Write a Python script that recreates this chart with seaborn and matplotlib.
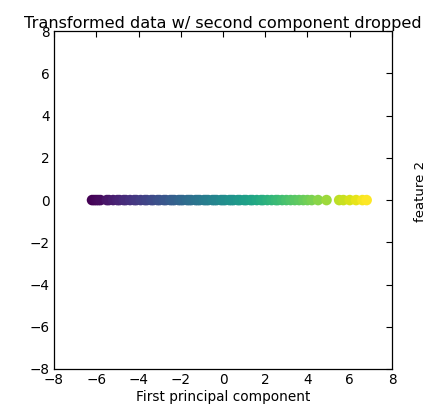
import matplotlib
matplotlib.use("Agg")
import matplotlib.pyplot as plt
import seaborn as sns
import pandas as pd

# First principal component values (second component dropped -> 0)
pc1 = [-6.2, -6.1, -6.0, -5.9, -5.8, -5.5, -5.4, -5.2, -5.0, -4.9, -4.7, -4.6,
       -4.4, -4.2, -4.1, -3.9, -3.7, -3.6, -3.4, -3.3, -3.1, -3.0, -2.8, -2.7,
       -2.5, -2.4, -2.3, -2.1, -2.0, -1.9, -1.7, -1.6, -1.5, -1.3, -1.2, -1.1,
       -0.9, -0.8, -0.7, -0.5, -0.4, -0.3, -0.1, 0.0, 0.1, 0.3, 0.4, 0.5, 0.7,
       0.8, 1.0, 1.1, 1.3, 1.4, 1.6, 1.8, 1.9, 2.1, 2.3, 2.5, 2.6, 2.8, 3.0,
       3.2, 3.4, 3.6, 3.8, 4.0, 4.2, 4.5, 4.9, 5.5, 5.7, 6.0, 6.3, 6.6, 6.8]
pc2 = [0.0] * len(pc1)

title = "Transformed data w/ second component dropped"
xlabel = "First principal component"
side_label = "feature 2"
ticks = [-8, -6, -4, -2, 0, 2, 4, 6, 8]

sns.set_style("white")
plt.rcParams['font.family'] = ['DejaVu Sans']
plt.rcParams['text.color'] = 'black'
plt.rcParams['axes.labelcolor'] = 'black'
plt.rcParams['xtick.color'] = 'black'
plt.rcParams['ytick.color'] = 'black'

df = pd.DataFrame({"pc1": pc1, "pc2": pc2})

fig = plt.figure(figsize=(4.30, 4.07), dpi=100)
ax = fig.add_axes([0.1256, 0.0934, 0.786, 0.830])
sns.scatterplot(data=df, x="pc1", y="pc2", hue="pc1", palette="viridis",
                legend=False, s=58, linewidth=0, ax=ax)
ax.set_xlim(-8, 8)
ax.set_ylim(-8, 8)
ax.set_xticks(ticks)
ax.set_yticks(ticks)
ax.set_xticklabels([f"\u2212{abs(t)}" if t < 0 else str(t) for t in ticks])
ax.set_yticklabels([f"\u2212{abs(t)}" if t < 0 else str(t) for t in ticks])
ax.tick_params(direction="in", length=4, width=0.8, top=True, right=True,
               labelsize=9.8, color="black", labelcolor="black", pad=3)
for sp in ax.spines.values():
    sp.set_color("black")
    sp.set_linewidth(0.9)
ax.set_xlabel(xlabel, fontsize=9.8, labelpad=2, color="black")
ax.set_ylabel("")
ax.set_title(title, fontsize=11.6, pad=2, color="black")
fig.text(0.977, 0.53, side_label, rotation=90, fontsize=9.5,
         ha="center", va="center", color="black")
fig.savefig("out.png", dpi=100)
